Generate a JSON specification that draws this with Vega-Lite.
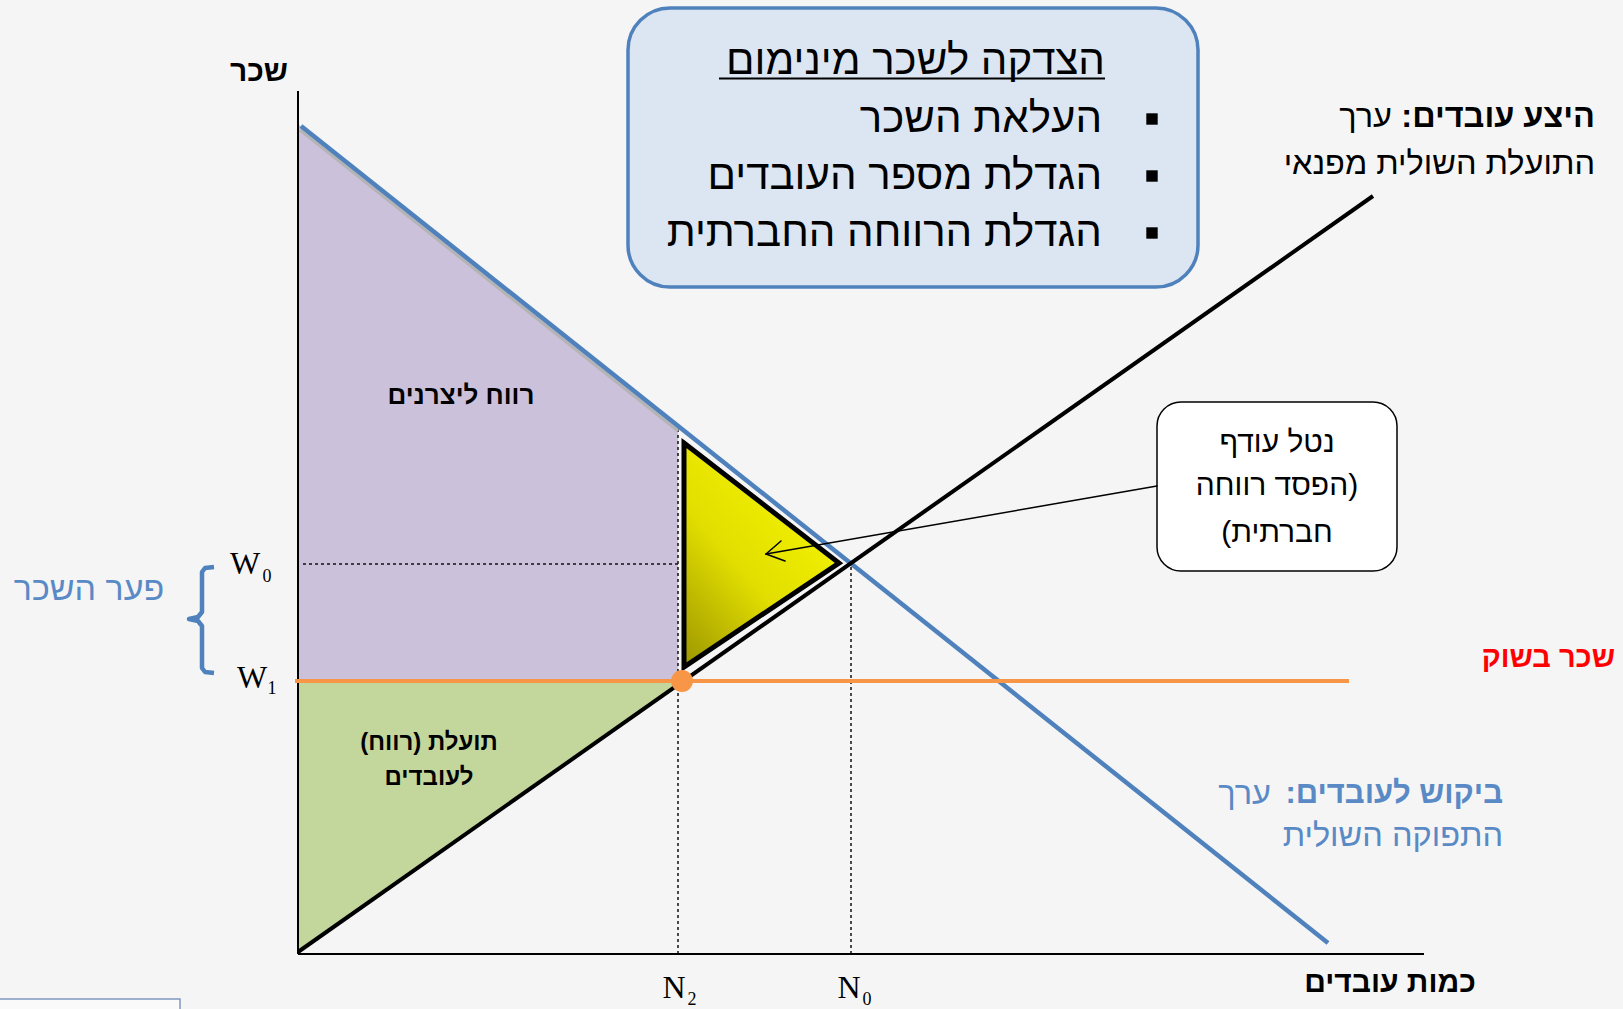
{
  "$schema": "https://vega.github.io/schema/vega-lite/v6.json",
  "width": 1623,
  "height": 1009,
  "autosize": "none",
  "padding": 0,
  "background": "#F5F5F5",
  "config": {"view": {"stroke": null}, "text": {"font": "Liberation Sans"}},
  "encoding": {
    "x": {"field": "x", "type": "quantitative", "scale": {"domain": [-29.8, 132.5], "nice": false, "zero": false}, "axis": null},
    "y": {"field": "y", "type": "quantitative", "scale": {"domain": [-5.5, 95.4], "nice": false, "zero": false}, "axis": null}
  },
  "layer": [
    {
      "data": {"values": [{"x": 0, "y": 83.0, "y2": 27.3}, {"x": 38.0, "y": 52.8, "y2": 27.3}]},
      "mark": {"type": "area", "color": "#CCC1DA"},
      "encoding": {"y2": {"field": "y2"}}
    },
    {
      "data": {"values": [{"x": 0, "y": 27.3, "y2": 0.2}, {"x": 38.5, "y": 27.3, "y2": 27.2}]},
      "mark": {"type": "area", "color": "#C3D69B"},
      "encoding": {"y2": {"field": "y2"}}
    },
    {
      "data": {"values": [
        {"x": 0.5, "y": 39.0, "x2": 38.0, "y2": 39.0},
        {"x": 38.0, "y": 0, "x2": 38.0, "y2": 52.5},
        {"x": 55.3, "y": 0, "x2": 55.3, "y2": 39.0}
      ]},
      "mark": {"type": "rule", "color": "#111111", "strokeWidth": 1.5, "strokeDash": [3, 3]},
      "encoding": {"x2": {"field": "x2"}, "y2": {"field": "y2"}}
    },
    {
      "data": {"values": [{"x": 38.6, "y": 51.1, "y2": 28.7}, {"x": 54.1, "y": 39.1, "y2": 39.1}]},
      "mark": {
        "type": "area",
        "stroke": "#000000",
        "strokeWidth": 5,
        "strokeJoin": "miter",
        "fill": {
          "gradient": "linear",
          "x1": 0.7, "y1": 0.1, "x2": 0, "y2": 1,
          "stops": [
            {"offset": 0, "color": "#F4F400"},
            {"offset": 0.5, "color": "#E2DE00"},
            {"offset": 1, "color": "#9C9600"}
          ]
        }
      },
      "encoding": {"y2": {"field": "y2"}}
    },
    {
      "data": {"values": [
        {"x": 0, "y": 0, "x2": 0, "y2": 86.3},
        {"x": 0, "y": 0, "x2": 112.6, "y2": 0}
      ]},
      "mark": {"type": "rule", "color": "#000000", "strokeWidth": 2},
      "encoding": {"x2": {"field": "x2"}, "y2": {"field": "y2"}}
    },
    {
      "data": {"values": [{"x": 0.2, "y": 82.4, "x2": 38.0, "y2": 52.3}]},
      "mark": {"type": "rule", "color": "#B4B4B4", "strokeWidth": 3},
      "encoding": {"x2": {"field": "x2"}, "y2": {"field": "y2"}}
    },
    {
      "data": {"values": [{"x": 0.3, "y": 82.8, "x2": 103.0, "y2": 1.1}]},
      "mark": {"type": "rule", "color": "#4F81BD", "strokeWidth": 4.5},
      "encoding": {"x2": {"field": "x2"}, "y2": {"field": "y2"}}
    },
    {
      "data": {"values": [{"x": 0, "y": 0.2, "x2": 107.5, "y2": 75.8}]},
      "mark": {"type": "rule", "color": "#000000", "strokeWidth": 4},
      "encoding": {"x2": {"field": "x2"}, "y2": {"field": "y2"}}
    },
    {
      "data": {"values": [{"x": -0.3, "y": 27.3, "x2": 105.1, "y2": 27.3}]},
      "mark": {"type": "rule", "color": "#F79646", "strokeWidth": 4},
      "encoding": {"x2": {"field": "x2"}, "y2": {"field": "y2"}}
    },
    {
      "data": {"values": [{"x": 38.4, "y": 27.3}]},
      "mark": {"type": "point", "filled": true, "color": "#F79646", "size": 480, "opacity": 1},
      "encoding": {}
    },
    {
      "data": {"values": [
        {"x": -8.4, "y": 38.7, "o": 1}, {"x": -9.3, "y": 38.6, "o": 2}, {"x": -9.6, "y": 38.2, "o": 3},
        {"x": -9.6, "y": 34.2, "o": 4}, {"x": -10.0, "y": 33.7, "o": 5}, {"x": -10.9, "y": 33.5, "o": 6},
        {"x": -10.0, "y": 33.3, "o": 7}, {"x": -9.6, "y": 32.8, "o": 8}, {"x": -9.6, "y": 28.6, "o": 9},
        {"x": -9.3, "y": 28.2, "o": 10}, {"x": -8.4, "y": 28.1, "o": 11}
      ]},
      "mark": {"type": "line", "color": "#4F81BD", "strokeWidth": 4.5, "strokeJoin": "round"},
      "encoding": {"order": {"field": "o", "type": "quantitative"}}
    },
    {
      "data": {"values": [{"x": 85.9, "y": 55.2, "x2": 109.9, "y2": 38.3}]},
      "mark": {"type": "rect", "fill": "#FFFFFF", "stroke": "#000000", "strokeWidth": 1.5, "cornerRadius": 24},
      "encoding": {"x2": {"field": "x2"}, "y2": {"field": "y2"}}
    },
    {
      "data": {"values": [
        {"x": 85.9, "y": 46.8, "x2": 46.8, "y2": 40.0},
        {"x": 46.8, "y": 40.0, "x2": 48.3, "y2": 41.3},
        {"x": 46.8, "y": 40.0, "x2": 48.7, "y2": 39.3}
      ]},
      "mark": {"type": "rule", "color": "#000000", "strokeWidth": 1.5, "strokeCap": "round"},
      "encoding": {"x2": {"field": "x2"}, "y2": {"field": "y2"}}
    },
    {
      "data": {"values": [{"x": 33.0, "y": 94.6, "x2": 90.0, "y2": 66.7}]},
      "mark": {"type": "rect", "fill": "#DCE6F2", "stroke": "#4F81BD", "strokeWidth": 3.5, "cornerRadius": 42},
      "encoding": {"x2": {"field": "x2"}, "y2": {"field": "y2"}}
    },
    {
      "data": {"values": [{"x": 42.1, "y": 87.55, "x2": 80.7, "y2": 87.55}]},
      "mark": {"type": "rule", "color": "#000000", "strokeWidth": 2},
      "encoding": {"x2": {"field": "x2"}, "y2": {"field": "y2"}}
    },
    {
      "data": {"values": [{"x": 85.4, "y": 83.5}, {"x": 85.4, "y": 77.8}, {"x": 85.4, "y": 72.1}]},
      "mark": {"type": "point", "shape": "square", "filled": true, "color": "#000000", "size": 130, "opacity": 1},
      "encoding": {}
    },
    {
      "data": {"values": [{"x": -31, "y": -4.5, "x2": -11.8, "y2": -9}]},
      "mark": {"type": "rect", "fill": "#FAFAFA", "stroke": "#8197C0", "strokeWidth": 1.5},
      "encoding": {"x2": {"field": "x2"}, "y2": {"field": "y2"}}
    },
    {
      "data": {"values": [{"x": 80.7, "y": 88.0, "t": "הצדקה לשכר מינימום"}]},
      "mark": {"type": "text", "align": "right", "baseline": "alphabetic", "fontSize": 42, "color": "#000000"},
      "encoding": {"text": {"field": "t"}}
    },
    {
      "data": {"values": [
        {"x": 80.4, "y": 83.5, "t": "העלאת השכר"},
        {"x": 80.4, "y": 77.8, "t": "הגדלת מספר העובדים"},
        {"x": 80.4, "y": 72.1, "t": "הגדלת הרווחה החברתית"}
      ]},
      "mark": {"type": "text", "align": "right", "baseline": "middle", "fontSize": 42, "color": "#000000"},
      "encoding": {"text": {"field": "t"}}
    },
    {
      "data": {"values": [
        {"x": -3.9, "y": 88.2, "t": "שכר"},
        {"x": 109.2, "y": -2.9, "t": "כמות עובדים"}
      ]},
      "mark": {"type": "text", "align": "center", "baseline": "middle", "fontSize": 30, "fontWeight": "bold", "color": "#000000"},
      "encoding": {"text": {"field": "t"}}
    },
    {
      "data": {"values": [
        {"x": 16.3, "y": 55.8, "t": "רווח ליצרנים"}
      ]},
      "mark": {"type": "text", "align": "center", "baseline": "middle", "fontSize": 26, "fontWeight": "bold", "color": "#000000"},
      "encoding": {"text": {"field": "t"}}
    },
    {
      "data": {"values": [
        {"x": 13.1, "y": 21.1, "t": "תועלת (רווח)\u200F"},
        {"x": 13.1, "y": 17.6, "t": "לעובדים"}
      ]},
      "mark": {"type": "text", "align": "center", "baseline": "middle", "fontSize": 24, "fontWeight": "bold", "color": "#000000"},
      "encoding": {"text": {"field": "t"}}
    },
    {
      "data": {"values": [
        {"x": 97.9, "y": 51.1, "t": "נטל עודף"},
        {"x": 97.9, "y": 46.8, "t": "\u200F(הפסד רווחה"},
        {"x": 97.9, "y": 42.1, "t": "חברתית)\u200F"}
      ]},
      "mark": {"type": "text", "align": "center", "baseline": "middle", "fontSize": 30, "color": "#000000"},
      "encoding": {"text": {"field": "t"}}
    },
    {
      "data": {"values": [
        {"x": 129.7, "y": 83.7, "t": "היצע עובדים:\u200F"}
      ]},
      "mark": {"type": "text", "align": "right", "baseline": "middle", "fontSize": 32.5, "fontWeight": "bold", "color": "#000000"},
      "encoding": {"text": {"field": "t"}}
    },
    {
      "data": {"values": [
        {"x": 109.4, "y": 83.7, "t": "ערך"},
        {"x": 129.7, "y": 79.0, "t": "התועלת השולית מפנאי"}
      ]},
      "mark": {"type": "text", "align": "right", "baseline": "middle", "fontSize": 32.5, "color": "#000000"},
      "encoding": {"text": {"field": "t"}}
    },
    {
      "data": {"values": [
        {"x": 120.5, "y": 16.0, "t": "ביקוש לעובדים:\u200F"}
      ]},
      "mark": {"type": "text", "align": "right", "baseline": "middle", "fontSize": 31, "fontWeight": "bold", "color": "#5A8AC6"},
      "encoding": {"text": {"field": "t"}}
    },
    {
      "data": {"values": [
        {"x": 97.3, "y": 16.0, "t": "ערך"},
        {"x": 120.5, "y": 11.8, "t": "התפוקה השולית"}
      ]},
      "mark": {"type": "text", "align": "right", "baseline": "middle", "fontSize": 32.5, "color": "#5A8AC6"},
      "encoding": {"text": {"field": "t"}}
    },
    {
      "data": {"values": [{"x": 131.7, "y": 29.6, "t": "שכר בשוק"}]},
      "mark": {"type": "text", "align": "right", "baseline": "middle", "fontSize": 29, "fontWeight": "bold", "color": "#FF0000"},
      "encoding": {"text": {"field": "t"}}
    },
    {
      "data": {"values": [{"x": -20.9, "y": 36.4, "t": "פער השכר"}]},
      "mark": {"type": "text", "align": "center", "baseline": "middle", "fontSize": 34, "color": "#5A8AC6"},
      "encoding": {"text": {"field": "t"}}
    },
    {
      "data": {"values": [
        {"x": -5.3, "y": 39.0, "t": "W"},
        {"x": -4.6, "y": 27.6, "t": "W"},
        {"x": 37.6, "y": -3.4, "t": "N"},
        {"x": 55.1, "y": -3.4, "t": "N"}
      ]},
      "mark": {"type": "text", "align": "center", "baseline": "middle", "fontSize": 32, "font": "Liberation Serif", "color": "#000000"},
      "encoding": {"text": {"field": "t"}}
    },
    {
      "data": {"values": [
        {"x": -3.1, "y": 37.7, "t": "0"},
        {"x": -2.6, "y": 26.5, "t": "1"},
        {"x": 39.4, "y": -4.6, "t": "2"},
        {"x": 56.9, "y": -4.6, "t": "0"}
      ]},
      "mark": {"type": "text", "align": "center", "baseline": "middle", "fontSize": 18, "font": "Liberation Serif", "color": "#000000"},
      "encoding": {"text": {"field": "t"}}
    }
  ]
}
